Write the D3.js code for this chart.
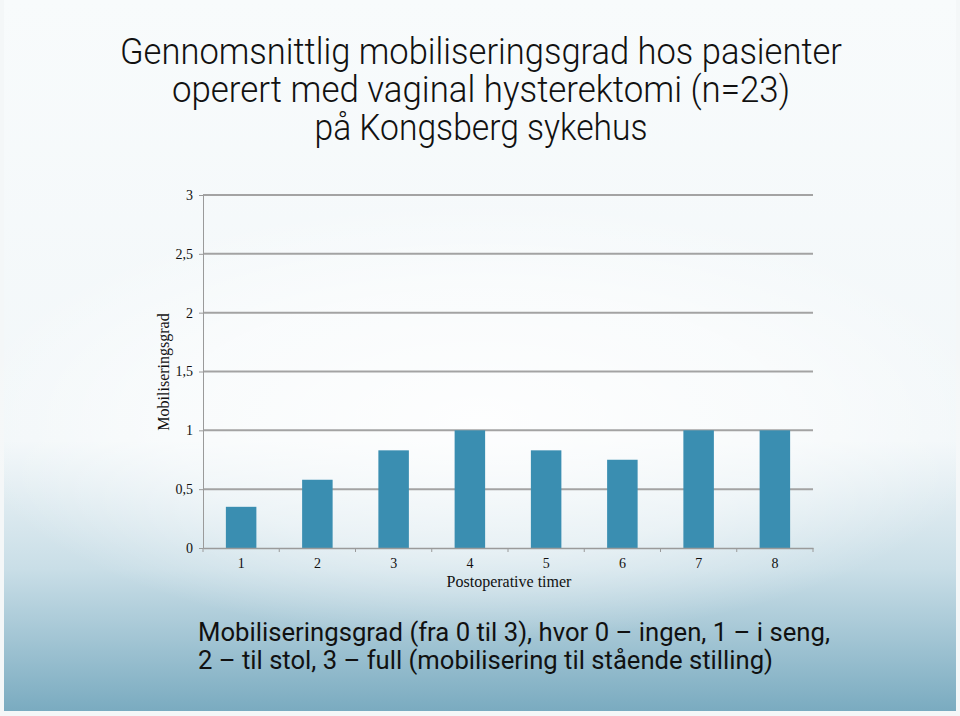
<!DOCTYPE html>
<html>
<head>
<meta charset="utf-8">
<script src="https://cdn.jsdelivr.net/npm/d3@7"></script>
<style>
  body { margin: 0; background: #fff; }
  svg { display: block; }
</style>
</head>
<body>
<div id="chart"></div>
<script>
// data
var hours = ["1", "2", "3", "4", "5", "6", "7", "8"];
var grade = [0.35, 0.58, 0.83, 1, 0.83, 0.75, 1, 1];
var yTicks = [0, 0.5, 1, 1.5, 2, 2.5, 3];
var titleLines = ["Gennomsnittlig mobiliseringsgrad hos pasienter",
                  "operert med vaginal hysterektomi (n=23)",
                  "på Kongsberg sykehus"];
var titleWidths = [722, 618, 333];
var noteLines = ["Mobiliseringsgrad (fra 0 til 3), hvor 0 – ingen, 1 – i seng,",
                 "2 – til stol, 3 – full (mobilisering til stående stilling)"];
var noteWidths = [632, 575];

var width = 960, height = 716;
var plotLeft = 203, plotRight = 813, plotTop = 195, plotBottom = 548;

var svg = d3.select("#chart").append("svg")
    .attr("width", width)
    .attr("height", height);

// slide background
var defs = svg.append("defs");
var bg = defs.append("linearGradient").attr("id", "bg")
    .attr("x1", 0).attr("y1", 0).attr("x2", 0).attr("y2", 1);
bg.append("stop").attr("offset", "0").attr("stop-color", "#f8fbfc");
bg.append("stop").attr("offset", "0.62").attr("stop-color", "#f2f7f9");
bg.append("stop").attr("offset", "0.8").attr("stop-color", "#c9dee7");
bg.append("stop").attr("offset", "1").attr("stop-color", "#7aabc0");

var glow = defs.append("radialGradient").attr("id", "glow")
    .attr("cx", 0.5).attr("cy", 0.5).attr("r", 0.5);
glow.append("stop").attr("offset", "0").attr("stop-color", "#ffffff").attr("stop-opacity", 0.85);
glow.append("stop").attr("offset", "0.6").attr("stop-color", "#ffffff").attr("stop-opacity", 0.5);
glow.append("stop").attr("offset", "1").attr("stop-color", "#ffffff").attr("stop-opacity", 0);

svg.append("rect").attr("width", width).attr("height", height).attr("fill", "#f4f7f8");
svg.append("rect").attr("x", 4).attr("y", 0).attr("width", width - 8).attr("height", height - 5)
    .attr("fill", "url(#bg)");
svg.append("ellipse").attr("cx", 480).attr("cy", 420).attr("rx", 520).attr("ry", 220)
    .attr("fill", "url(#glow)");

// title
svg.append("g").selectAll("text")
    .data(titleLines)
    .join("text")
    .attr("x", 481)
    .attr("y", function(d, i) { return 64 + i * 38; })
    .attr("text-anchor", "middle")
    .attr("textLength", function(d, i) { return titleWidths[i]; })
    .attr("lengthAdjust", "spacingAndGlyphs")
    .style("font-family", "Roboto, sans-serif")
    .style("font-weight", 300)
    .style("font-size", "36px")
    .style("fill", "#111")
    .text(function(d) { return d; });

// scales
var x = d3.scaleBand().domain(hours).range([plotLeft, plotRight]).paddingInner(0.6).paddingOuter(0.3);
var xEdge = d3.scaleLinear().domain([0, hours.length]).range([plotLeft, plotRight]);
var y = d3.scaleLinear().domain([0, 3]).range([plotBottom, plotTop]);

// gridlines
svg.append("g").selectAll("line")
    .data(yTicks.filter(function(t) { return t > 0; }))
    .join("line")
    .attr("x1", plotLeft).attr("x2", plotRight)
    .attr("y1", function(d) { return y(d); })
    .attr("y2", function(d) { return y(d); })
    .attr("stroke", "#a3a3a3")
    .attr("stroke-width", 2);

// bars
svg.append("g").selectAll("rect")
    .data(grade)
    .join("rect")
    .attr("x", function(d, i) { return x(hours[i]); })
    .attr("width", x.bandwidth())
    .attr("y", function(d) { return y(d); })
    .attr("height", function(d) { return y(0) - y(d); })
    .attr("fill", "#3a8eb1");

// y axis
var yAxis = svg.append("g")
    .attr("transform", "translate(" + plotLeft + ",0)")
    .call(d3.axisLeft(y).tickValues(yTicks).tickSize(4).tickPadding(6)
        .tickFormat(function(d) { return String(d).replace(".", ","); }));
yAxis.select(".domain").attr("stroke", "#9a9a9a");
yAxis.selectAll(".tick line").attr("stroke", "#9a9a9a");
yAxis.selectAll("text")
    .style("font-family", "'Liberation Serif', serif")
    .style("font-size", "14px")
    .style("fill", "#111");

// x axis
var xAxis = svg.append("g")
    .attr("transform", "translate(0," + plotBottom + ")")
    .call(d3.axisBottom(x).tickSize(0).tickPadding(10));
xAxis.select(".domain").attr("stroke", "#9a9a9a").attr("stroke-width", 1.5);
xAxis.selectAll("text")
    .style("font-family", "'Liberation Serif', serif")
    .style("font-size", "14px")
    .style("fill", "#111");
xAxis.selectAll(".edge")
    .data(d3.range(hours.length + 1))
    .join("line")
    .attr("class", "edge")
    .attr("x1", function(d) { return xEdge(d); })
    .attr("x2", function(d) { return xEdge(d); })
    .attr("y1", 0).attr("y2", 4)
    .attr("stroke", "#9a9a9a");

// axis titles
svg.append("text")
    .attr("x", 509).attr("y", 587)
    .attr("text-anchor", "middle")
    .style("font-family", "'Liberation Serif', serif")
    .style("font-size", "16px")
    .style("fill", "#111")
    .text("Postoperative timer");

svg.append("text")
    .attr("transform", "translate(169,372) rotate(-90)")
    .attr("text-anchor", "middle")
    .style("font-family", "'Liberation Serif', serif")
    .style("font-size", "16px")
    .style("fill", "#111")
    .text("Mobiliseringsgrad");

// note
svg.append("g").selectAll("text")
    .data(noteLines)
    .join("text")
    .attr("x", 198)
    .attr("y", function(d, i) { return 641 + i * 28; })
    .attr("textLength", function(d, i) { return noteWidths[i]; })
    .attr("lengthAdjust", "spacingAndGlyphs")
    .style("font-family", "Roboto, sans-serif")
    .style("font-size", "25px")
    .style("fill", "#111")
    .text(function(d) { return d; });
</script>
</body>
</html>
